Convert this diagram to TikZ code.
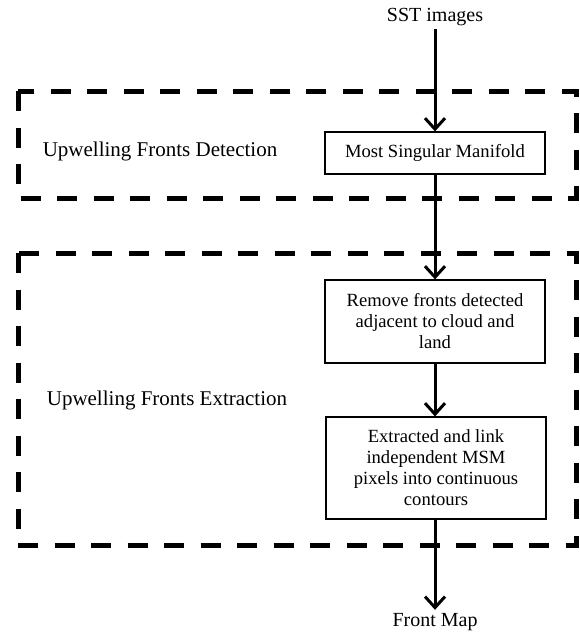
\documentclass[tikz,border=0pt]{standalone}
\usepackage{fontspec}
\setmainfont{Liberation Serif}
\usetikzlibrary{arrows.meta, positioning}

\begin{document}
\begin{tikzpicture}[
                        x=1pt, y=-1pt,
                        stepbox/.style={rectangle, draw, line width=1.2pt, align=center,
                          minimum width=220pt, inner sep=8pt, font=\fontsize{18.6}{21}\selectfont},
                        plain/.style={font=\fontsize{20}{24}\selectfont},
                        stagelabel/.style={font=\fontsize{21}{25}\selectfont},
                        stage/.style={draw, line width=5pt, dash pattern=on 20pt off 16.5pt},
                        flow/.style={line width=3pt,
                          -{Straight Barb[length=11pt, width=20pt, line width=3pt]}}
                        ]
                        \useasboundingbox (0,0) rectangle (580,632);

                        % stage frames
                        \draw[stage] (18,91) rectangle (576,198);
                        \draw[stage] (18,253) rectangle (576,545);
                        \node[stagelabel] (detect) at (160,151) {Upwelling Fronts Detection};
                        \node[stagelabel] (extract) at (167,400) {Upwelling Fronts Extraction};

                        % processing chain
                        \node[plain] (sst) at (435,17) {SST images};
                        \node[stepbox, minimum height=42pt] (msm) at (435,153) {Most Singular Manifold};
                        \node[stepbox, minimum height=83pt] (remove) at (435,321.5)
                          {Remove fronts detected\\adjacent to cloud and\\land};
                        \node[stepbox, minimum height=102pt] (link) at (436,468)
                          {Extracted and link\\independent MSM\\pixels into continuous\\contours};
                        \node[plain] (map) at (435,622) {Front Map};

                        \draw[flow] (sst) -- (msm);
                        \draw[flow] (msm) -- (remove);
                        \draw[flow] (remove) -- (remove |- link.north);
                        \draw[flow] (link.south -| map) -- (map);
                      \end{tikzpicture}
\end{document}
